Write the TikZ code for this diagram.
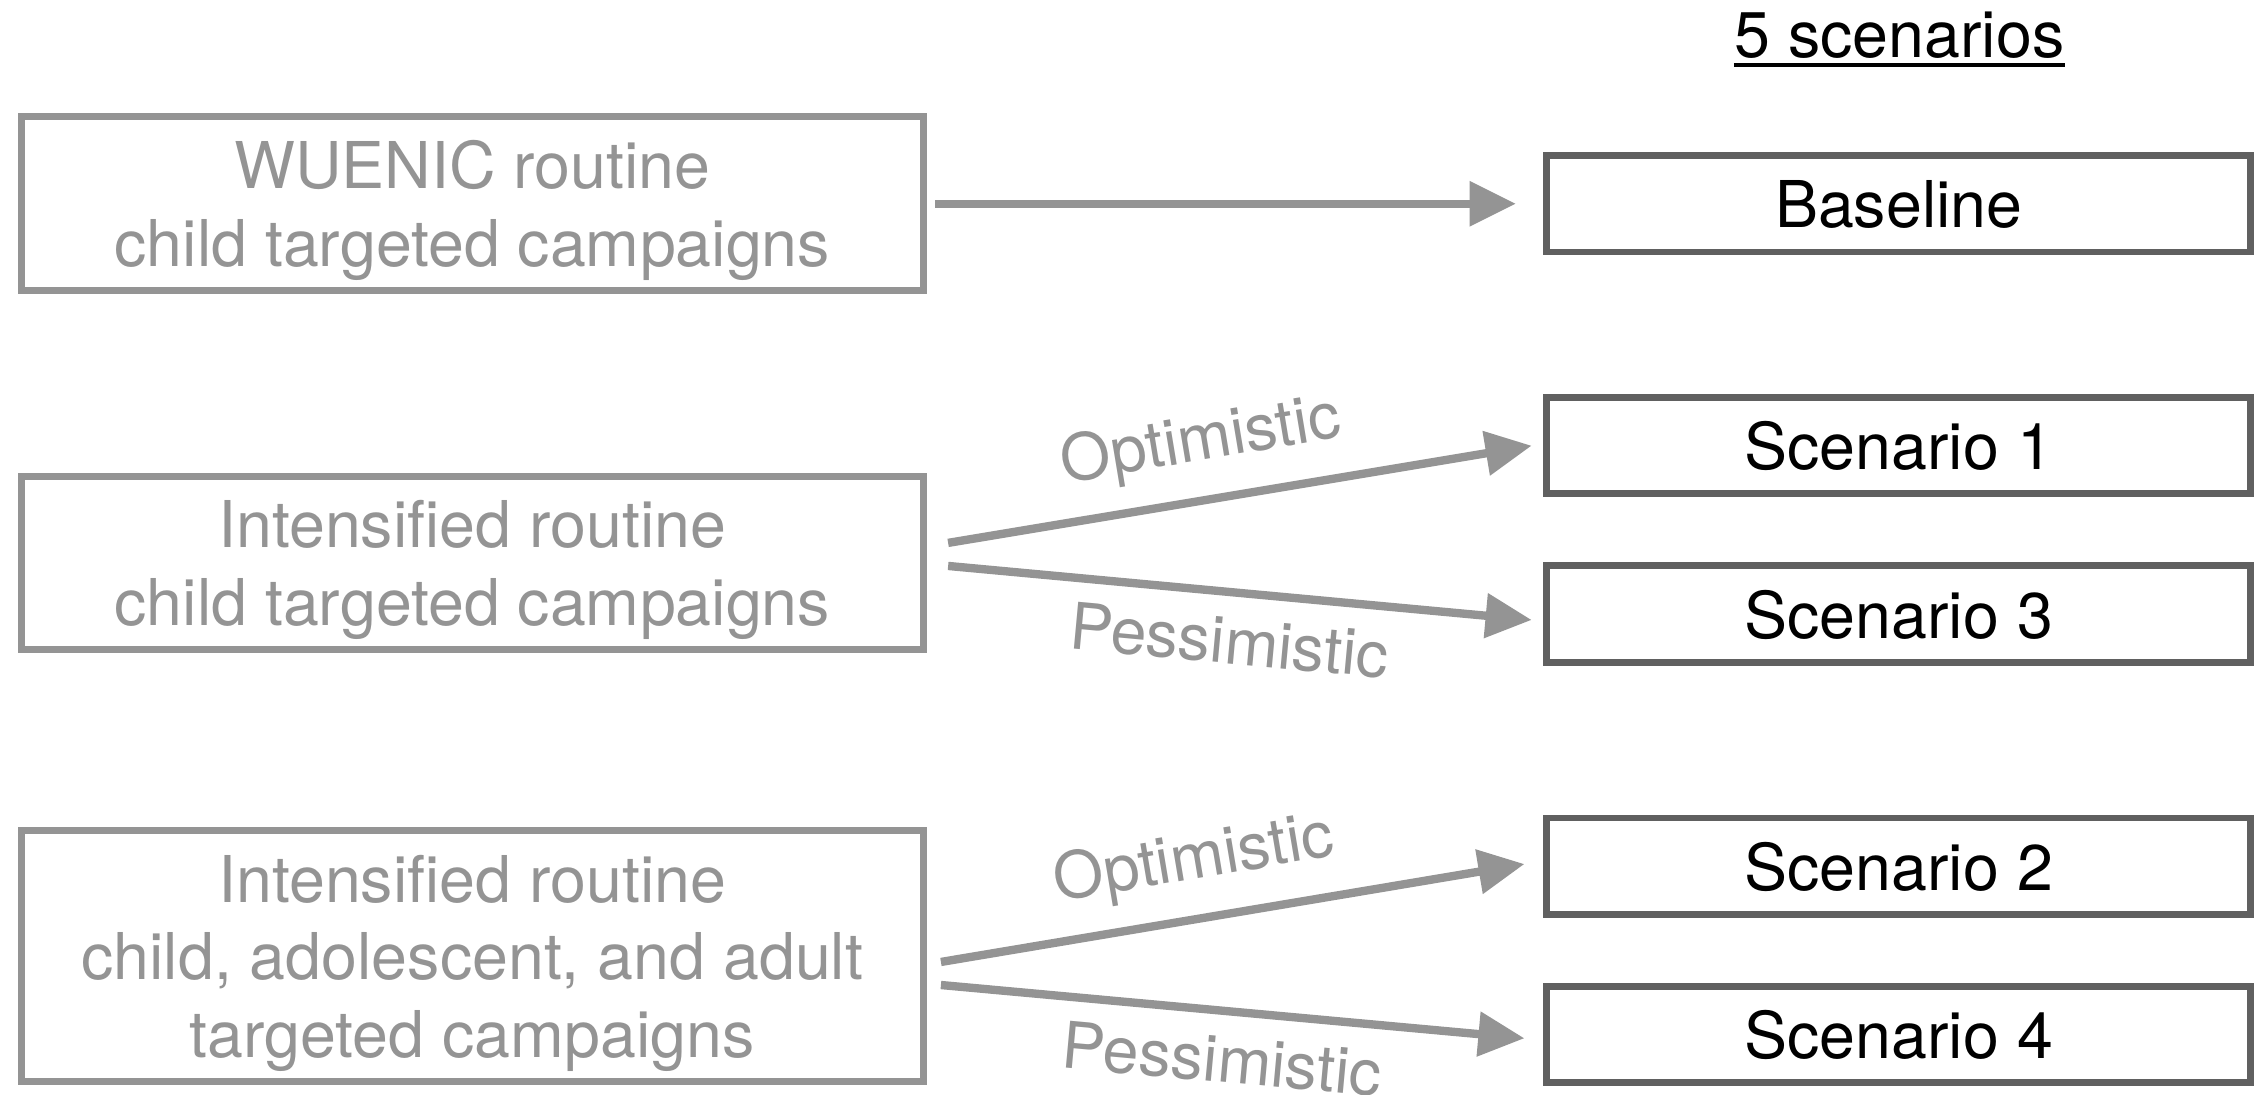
\documentclass[tikz,border=0pt]{standalone}
\usepackage{fontspec}
\setmainfont{TeX Gyre Heros}
\usetikzlibrary{arrows.meta,calc}
\definecolor{lg}{HTML}{949494}
\definecolor{dg}{HTML}{606060}
\begin{document}
\begin{tikzpicture}[x=0.5pt,y=-0.5pt,
  every node/.style={font=\fontsize{22.4}{27}\selectfont},
  src/.style={draw=lg, line width=2.4pt, text=lg, minimum width=313pt, inner sep=0pt, align=center, text depth=-1.9pt},
  scen/.style={draw=dg, line width=2.4pt, text=black, minimum width=244.5pt, minimum height=33.5pt, inner sep=0pt, text depth=-2pt},
  arr/.style={draw=lg, line width=2.9pt, -{Triangle[length=16pt,width=15pt]}},
  lab/.style={text=lg, sloped, inner sep=0pt}]
\useasboundingbox (0,0) rectangle (1568,760);
\node[src, minimum height=60.5pt] (W) at (328,141.5) {WUENIC routine\\child targeted campaigns};
\node[src, minimum height=60pt] (I1) at (328,391) {Intensified routine\\child targeted campaigns};
\node[src, minimum height=87pt] (I2) at (328,664) {Intensified routine\\child, adolescent, and adult\\targeted campaigns};
\node[scen] (B) at (1318.5,141.5) {Baseline};
\node[scen] (S1) at (1318.5,309.5) {Scenario 1};
\node[scen] (S3) at (1318.5,426.5) {Scenario 3};
\node[scen] (S2) at (1318.5,601.5) {Scenario 2};
\node[scen] (S4) at (1318.5,718.5) {Scenario 4};
\node[anchor=base, inner sep=0pt] (T) at (1319,40) {5 scenarios};
\draw[line width=1.2pt] ([yshift=-2.5pt]T.base west) -- ([yshift=-2.5pt]T.base east);
\draw[arr] ($(W.east)+(6,0)$) -- ($(B.west)+(-19,0)$);
\draw[arr] ($(I1.east)+(15,-14)$) -- node[lab, pos=0.45, above=7.5pt] {Optimistic} ($(S1.west)+(-8,0)$);
\draw[arr] ($(I1.east)+(15,2)$) -- node[lab, pos=0.49, below=7pt] {Pessimistic} ($(S3.west)+(-8,4)$);
\draw[arr] ($(I2.east)+(10,4)$) -- node[lab, pos=0.45, above=7.5pt] {Optimistic} ($(S2.west)+(-13,-1.5)$);
\draw[arr] ($(I2.east)+(10,20)$) -- node[lab, pos=0.49, below=7pt] {Pessimistic} ($(S4.west)+(-13,2.5)$);
\end{tikzpicture}
\end{document}
